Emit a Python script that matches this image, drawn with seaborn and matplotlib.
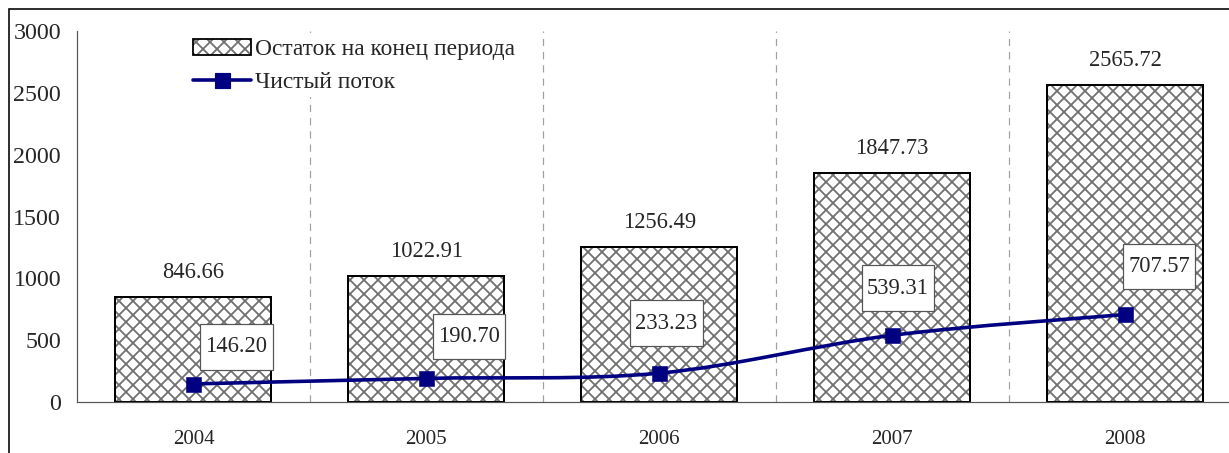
import numpy as np
import matplotlib
matplotlib.use('Agg')
import matplotlib.pyplot as plt
import seaborn as sns
from matplotlib.path import Path
from matplotlib.patches import PathPatch, Patch, Rectangle
from matplotlib.lines import Line2D

# data
years = ['2004', '2005', '2006', '2007', '2008']
balance = [846.66, 1022.91, 1256.49, 1847.73, 2565.72]
net_flow = [146.20, 190.70, 233.23, 539.31, 707.57]
bar_label = 'Остаток на конец периода'
line_label = 'Чистый поток'

navy = '#000080'
hatch_grey = '#707070'
DPI = 84
P = 72 / DPI  # points per pixel

sns.set_style('white')
plt.rcParams['font.family'] = ['Liberation Serif', 'DejaVu Serif']
plt.rcParams['hatch.linewidth'] = 1.8 * P


def tall_box(x0, y0, width, height, mutation_size):
    # label box that is taller than a plain padded box
    padx = 0.23 * mutation_size
    pady = 0.55 * mutation_size
    x1, y1 = x0 + width + padx, y0 + height + pady
    xa, ya = x0 - padx, y0 - pady
    return Path([(xa, ya), (x1, ya), (x1, y1), (xa, y1), (xa, ya)], closed=True)


fig = plt.figure(figsize=(1229 / DPI, 453 / DPI), dpi=DPI)
ax = fig.add_axes([77 / 1229, 51 / 453, 1164.5 / 1229, 371 / 453])

# bars: grey crosshatch fill, then black outline on top
sns.barplot(x=years, y=balance, color='white', edgecolor=hatch_grey, linewidth=0,
            width=0.67, saturation=1, ax=ax, zorder=2)
for p in ax.patches:
    p.set_hatch('xx')
sns.barplot(x=years, y=balance, fill=False, edgecolor='black', linewidth=2 * P,
            width=0.67, ax=ax, zorder=2.5)

# vertical dashed separators between categories
bounds = np.arange(len(years) - 1) + 0.5
ax.vlines(bounds, 0, 3000, colors='#a0a0a0', linestyles=(0, (6, 5)), lw=1.2 * P, zorder=1)

# smoothed line (Bezier through the points, like Excel smoothing)
xs = np.arange(len(years), dtype=float)
pts = np.column_stack([xs, np.array(net_flow)])
verts = [pts[0]]
codes = [Path.MOVETO]
for i in range(len(pts) - 1):
    p0 = pts[max(i - 1, 0)]
    p1 = pts[i]
    p2 = pts[i + 1]
    p3 = pts[min(i + 2, len(pts) - 1)]
    verts += [p1 + (p2 - p0) / 6, p2 - (p3 - p1) / 6, p2]
    codes += [Path.CURVE4] * 3
ax.add_patch(PathPatch(Path(verts, codes), facecolor='none', edgecolor=navy, lw=3.6 * P, zorder=3))
sns.scatterplot(x=xs, y=net_flow, marker='s', s=(15 * P) ** 2, color=navy, edgecolor=navy,
                linewidth=0.5, legend=False, ax=ax, zorder=4)

# value labels on bars
for i, v in enumerate(balance):
    ax.annotate(f'{v:.2f}', (i, v), xytext=(0, 14 * P), textcoords='offset points',
                ha='center', va='bottom', fontsize=22.5 * P)

# boxed labels for the line (offsets in pixels)
flow_offsets = [(43, 37), (43, 42), (7, 50), (6, 47), (34, 48)]
for i, v in enumerate(net_flow):
    dx, dy = flow_offsets[i]
    ax.annotate(f'{v:.2f}', (i, v), xytext=(dx * P, dy * P), textcoords='offset points',
                ha='center', va='center', fontsize=22.5 * P, zorder=6,
                bbox=dict(boxstyle=tall_box, fc='white', ec='#555555', lw=1.2 * P))

ax.set_xlim(-0.5, len(years) - 0.5)
ax.set_ylim(0, 3000)
ax.set_yticks(np.arange(0, 3001, 500))
ax.set_xticks(bounds, minor=True)
ax.tick_params(axis='x', which='major', length=0, pad=28 * P, labelsize=21 * P)
ax.tick_params(axis='x', which='minor', length=7 * P, width=1.2 * P, color='#555555', direction='out')
ax.tick_params(axis='y', length=7 * P, width=1.2 * P, color='#555555', direction='out',
               pad=9 * P, labelsize=24 * P)
ax.set_xlabel('')
ax.set_ylabel('')
sns.despine(ax=ax)
for s in ['left', 'bottom']:
    ax.spines[s].set_color('#555555')
    ax.spines[s].set_linewidth(1.2 * P)

bar_handle = (Patch(facecolor='white', edgecolor=hatch_grey, hatch='xx', lw=0),
              Patch(fill=False, edgecolor='black', lw=1.8 * P))
line_handle = Line2D([], [], color=navy, lw=3.6 * P, marker='s', markersize=15 * P)
leg = ax.legend(handles=[bar_handle, line_handle], labels=[bar_label, line_label],
                loc='upper left', bbox_to_anchor=(0.096, 0.99),
                borderaxespad=0, frameon=True, fontsize=23.5 * P, handlelength=2.43,
                handleheight=0.64, handletextpad=0.2, borderpad=0.2, labelspacing=0.48,
                framealpha=1)
leg.get_frame().set_edgecolor('none')
leg.get_frame().set_facecolor('white')
leg.set_zorder(5)

# outer frame of the picture
fig.add_artist(Rectangle((9 / 1229, -0.5), 2, 1.5 - 9 / 453, transform=fig.transFigure,
                         fill=False, ec='black', lw=1.6 * P))

fig.savefig('out.png', dpi=DPI)
